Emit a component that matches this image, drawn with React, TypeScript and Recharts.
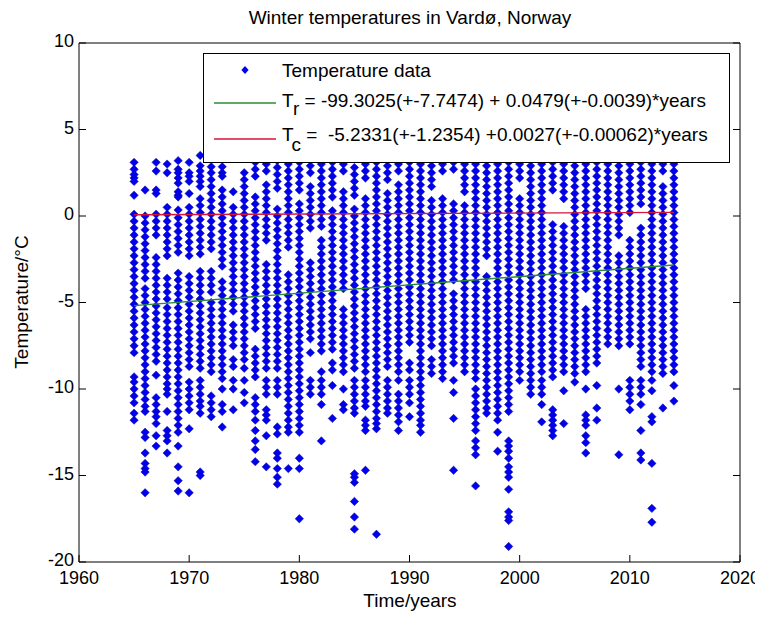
import React from 'react';
import { ComposedChart, Scatter, XAxis, YAxis } from 'recharts';

const winterYears = [1965,1966,1967,1968,1969,1970,1971,1972,1973,1974,1975,1976,1977,1978,1979,1980,1981,1982,1983,1984,1985,1986,1987,1988,1989,1990,1991,1992,1993,1994,1995,1996,1997,1998,1999,2000,2001,2002,2003,2004,2005,2006,2007,2008,2009,2010,2011,2012,2013,2014];

const winterTemps: number[][] = [
  [3.1,2.7,2.4,2.2,2.0,1.2,0.1,-0.3,-0.7,-1.1,-1.5,-1.9,-2.3,-2.7,-3.1,-3.5,-3.9,-4.3,-4.7,-5.1,-5.5,-5.9,-6.3,-6.7,-7.1,-7.5,-7.9,-9.3,-9.6,-10.0,-10.4,-10.8,-11.4,-11.8],
  [1.5,0.0,-0.4,-0.8,-1.2,-1.6,-2.0,-2.4,-2.8,-3.2,-3.6,-4.2,-4.6,-5.0,-5.4,-5.8,-6.2,-6.6,-7.0,-7.4,-7.8,-8.2,-8.6,-9.0,-9.4,-9.8,-10.2,-10.6,-11.0,-11.3,-12.5,-12.8,-13.7,-14.3,-14.6,-14.8,-16.0],
  [3.1,2.6,1.5,1.3,0.1,-0.3,-0.7,-1.1,-2.4,-2.8,-3.2,-3.6,-4.0,-4.4,-4.8,-5.2,-5.6,-6.0,-6.4,-6.8,-7.2,-7.6,-8.0,-8.4,-9.2,-10.5,-10.9,-11.3,-11.6,-12.0,-12.7,-13.3],
  [3.0,2.5,0.5,0.1,-0.3,-0.7,-1.1,-1.5,-1.9,-2.3,-3.6,-4.0,-4.4,-4.8,-5.3,-5.7,-6.1,-6.5,-6.9,-7.3,-7.7,-8.1,-8.5,-8.9,-9.3,-9.7,-10.0,-10.3,-11.3,-12.4,-12.7,-13.0,-13.7],
  [3.2,2.7,2.5,2.2,1.9,1.4,1.2,1.1,0.35,-0.1,-0.5,-0.9,-1.3,-1.7,-2.1,-3.3,-3.7,-4.1,-4.5,-4.9,-5.3,-5.7,-6.1,-6.5,-6.9,-7.3,-7.7,-8.1,-8.5,-8.9,-9.3,-9.7,-10.1,-10.5,-10.9,-11.3,-11.7,-12.1,-12.5,-13.3,-14.5,-15.3,-15.9],
  [3.1,2.5,2.3,2.0,1.3,0.5,0.1,-0.3,-0.7,-1.1,-1.5,-1.9,-2.3,-3.5,-3.9,-4.3,-4.7,-5.1,-5.5,-5.9,-6.3,-6.7,-7.1,-7.5,-7.9,-8.3,-8.7,-9.6,-10.0,-10.4,-10.8,-11.2,-12.3,-16.0],
  [3.5,2.9,2.6,2.3,2.0,1.7,1.0,0.6,0.2,-0.2,-0.6,-1.0,-1.4,-1.8,-2.2,-3.2,-3.6,-4.0,-4.4,-4.8,-5.2,-5.6,-6.0,-6.4,-6.8,-7.2,-7.6,-8.0,-8.4,-8.8,-9.5,-9.9,-10.3,-10.7,-11.0,-11.4,-14.8,-15.0],
  [2.85,2.5,2.1,1.7,1.3,0.9,0.5,0.1,-0.3,-0.7,-1.1,-1.5,-1.9,-3.2,-3.6,-4.0,-4.4,-5.0,-5.4,-5.8,-6.2,-6.6,-7.0,-7.4,-7.8,-8.2,-8.6,-9.0,-10.4,-10.8,-11.2,-11.6],
  [2.85,2.5,2.3,1.5,1.1,0.7,0.3,-0.1,-0.5,-0.9,-1.3,-1.7,-2.1,-2.5,-2.9,-3.8,-4.2,-4.6,-5.0,-5.4,-5.8,-6.2,-6.6,-7.0,-7.4,-7.8,-8.2,-8.6,-9.0,-9.4,-10.0,-10.9,-11.3,-12.2],
  [1.4,0.5,0.1,-0.3,-0.7,-1.1,-1.5,-1.9,-2.3,-2.7,-3.1,-3.5,-3.9,-4.3,-4.7,-5.1,-5.5,-6.3,-6.7,-7.1,-7.5,-8.3,-8.7,-9.5,-10.0,-11.2],
  [2.5,2.1,1.7,1.3,0.9,0.5,0.1,-0.3,-0.7,-1.1,-1.5,-1.9,-2.3,-2.7,-3.1,-3.5,-3.9,-4.3,-4.7,-5.1,-5.5,-5.9,-6.3,-6.7,-7.1,-7.5,-7.9,-8.3,-8.8,-9.5,-10.2,-10.8],
  [3.1,2.7,2.3,1.1,0.7,0.3,-0.1,-0.5,-0.9,-1.3,-1.7,-2.1,-2.5,-2.9,-3.3,-3.7,-4.1,-4.5,-4.9,-5.3,-5.7,-6.1,-6.5,-7.7,-8.1,-8.5,-8.9,-9.3,-10.5,-10.9,-11.3,-11.8,-12.4,-13.0,-13.5,-14.2],
  [3.0,2.6,1.8,1.4,1.0,0.6,0.2,-0.2,-0.6,-1.0,-1.4,-2.8,-3.2,-3.6,-4.0,-4.4,-4.8,-5.2,-5.6,-6.0,-6.4,-6.8,-7.2,-7.6,-8.0,-8.4,-8.8,-9.5,-9.9,-10.3,-11.2,-11.5,-11.8,-12.7,-14.5],
  [3.2,2.8,2.4,2.0,1.6,0.4,0.0,-0.4,-0.8,-1.2,-1.6,-2.0,-2.4,-2.8,-3.2,-3.6,-4.0,-4.4,-4.8,-5.2,-5.6,-6.0,-6.4,-6.8,-7.2,-7.6,-8.0,-8.4,-8.8,-9.5,-9.9,-10.3,-12.2,-12.6,-13.7,-14.0,-14.6,-15.1,-15.5],
  [3.0,2.6,2.2,1.8,1.4,1.0,0.6,0.2,-0.2,-0.6,-1.0,-1.4,-1.8,-3.4,-3.8,-4.2,-4.6,-5.0,-5.4,-5.8,-6.2,-6.6,-7.0,-7.4,-7.8,-8.2,-8.6,-9.0,-9.4,-9.8,-10.2,-10.6,-11.0,-11.4,-11.8,-12.2,-12.5,-14.6],
  [3.1,2.7,2.3,1.9,1.5,0.7,0.3,-0.1,-0.5,-0.9,-1.3,-1.7,-2.1,-2.5,-2.9,-3.3,-3.7,-4.1,-4.5,-4.9,-5.3,-5.7,-6.1,-6.5,-6.9,-7.3,-7.7,-8.1,-8.5,-8.9,-9.3,-9.7,-10.1,-10.5,-10.9,-11.3,-11.7,-12.1,-12.5,-14.0,-14.6,-17.5],
  [2.9,2.5,1.7,1.3,0.9,0.5,0.1,-0.3,-0.7,-2.7,-3.1,-3.5,-3.9,-4.3,-4.7,-5.1,-5.5,-5.9,-6.3,-6.7,-7.1,-7.9,-9.5,-9.9,-10.3],
  [3.0,2.6,2.2,1.8,1.4,1.0,0.6,0.2,-0.2,-0.6,-1.4,-1.8,-2.2,-2.6,-3.0,-3.4,-3.8,-4.2,-4.6,-5.0,-5.4,-5.8,-6.2,-6.6,-7.0,-7.4,-7.8,-9.0,-9.5,-9.9,-10.3,-10.9,-13.0],
  [3.1,2.7,2.3,1.9,1.5,1.1,0.3,-0.1,-0.5,-0.9,-1.3,-1.7,-2.1,-2.5,-2.9,-3.3,-3.7,-4.1,-4.5,-4.9,-5.3,-5.7,-6.1,-6.5,-6.9,-7.3,-7.7,-8.5,-8.9,-9.8,-11.7],
  [3.0,2.6,1.4,1.0,0.6,0.2,-0.2,-0.6,-1.0,-1.4,-1.8,-2.2,-2.6,-3.0,-3.4,-3.8,-4.2,-5.4,-5.8,-6.2,-6.6,-7.0,-7.4,-7.8,-8.2,-8.6,-9.0,-10.0,-10.9,-11.2],
  [2.8,2.4,2.0,1.6,1.2,0.4,0.0,-0.4,-0.8,-1.2,-1.6,-2.0,-2.4,-2.8,-3.2,-3.6,-4.0,-4.4,-4.8,-5.2,-5.6,-6.0,-6.4,-6.8,-7.2,-7.6,-8.0,-8.4,-8.8,-9.5,-9.9,-10.3,-10.7,-11.1,-11.4,-14.9,-15.1,-15.4,-16.5,-17.4,-18.1],
  [3.0,2.6,2.2,1.0,0.6,0.2,-0.2,-0.6,-1.0,-1.4,-1.8,-2.2,-2.6,-3.0,-3.4,-3.8,-4.2,-4.6,-5.0,-5.4,-5.8,-6.2,-6.6,-7.0,-7.4,-7.8,-8.2,-8.6,-9.0,-9.5,-9.9,-10.3,-10.7,-11.0,-11.8,-12.1,-12.4,-14.7],
  [3.1,2.7,2.3,1.9,1.5,1.1,0.7,0.3,-0.1,-0.5,-0.9,-1.3,-1.7,-2.1,-2.5,-2.9,-3.3,-3.7,-4.1,-4.5,-4.9,-5.3,-5.7,-6.1,-6.5,-6.9,-7.3,-7.7,-8.1,-8.5,-8.9,-9.3,-9.7,-10.1,-10.5,-10.9,-11.3,-11.7,-12.0,-12.3,-18.4],
  [2.9,2.5,2.1,1.3,0.9,0.5,0.1,-0.3,-0.7,-1.1,-1.5,-1.9,-2.3,-2.7,-3.1,-3.5,-3.9,-4.3,-4.7,-5.1,-5.5,-5.9,-6.3,-6.7,-7.1,-7.5,-7.9,-8.3,-8.7,-9.5,-9.9,-10.3,-10.7,-11.1,-11.4],
  [3.0,2.6,1.8,1.4,1.0,0.6,0.2,-0.2,-0.6,-1.0,-1.4,-1.8,-2.2,-2.6,-3.0,-3.4,-3.8,-4.2,-4.6,-5.0,-5.4,-5.8,-6.2,-6.6,-7.0,-7.4,-7.8,-8.2,-8.6,-9.0,-9.5,-10.3,-10.7,-11.1,-11.5,-11.9,-12.4],
  [3.1,2.7,2.3,1.9,1.5,1.1,0.7,0.3,-0.1,-0.5,-0.9,-1.3,-1.7,-2.1,-2.5,-2.9,-3.3,-3.7,-4.1,-4.5,-4.9,-5.3,-5.7,-6.1,-6.5,-6.9,-7.3,-8.5,-8.9,-9.5,-9.9,-10.3,-10.8,-11.6],
  [3.0,2.6,2.2,1.8,1.4,1.0,0.6,0.2,-0.2,-0.6,-1.0,-1.4,-1.8,-2.2,-2.6,-3.0,-3.4,-3.8,-4.2,-4.6,-5.0,-5.4,-5.8,-6.2,-6.6,-7.0,-7.4,-7.8,-8.2,-8.6,-9.0,-9.4,-9.8,-10.2,-10.6,-11.0,-11.4,-11.8,-12.1,-12.5],
  [2.9,2.5,2.1,1.7,0.9,0.5,0.1,-0.3,-0.7,-1.1,-1.5,-1.9,-2.3,-2.7,-3.1,-3.5,-3.9,-4.3,-4.7,-5.1,-5.5,-5.9,-6.3,-6.7,-7.1,-7.5,-8.3,-8.7,-9.1],
  [3.0,2.6,1.0,0.6,0.2,-0.2,-0.6,-1.0,-1.4,-1.8,-2.2,-2.6,-3.0,-3.4,-3.8,-4.2,-4.6,-5.0,-5.4,-5.8,-6.2,-6.6,-7.0,-7.4,-7.8,-8.2,-8.6,-9.0,-9.4],
  [3.1,2.7,0.7,0.3,-0.1,-0.5,-0.9,-1.3,-1.7,-2.1,-2.5,-2.9,-3.3,-3.7,-4.5,-4.9,-5.3,-5.7,-6.1,-6.5,-6.9,-7.3,-7.7,-8.1,-8.5,-9.5,-10.2,-11.7,-14.7],
  [3.0,2.6,2.2,1.8,1.4,0.6,0.2,-0.2,-0.6,-1.0,-1.4,-1.8,-2.2,-2.6,-3.0,-3.4,-3.8,-4.2,-4.6,-5.0,-5.4,-5.8,-6.2,-6.6,-7.0,-7.4,-7.8,-8.2,-8.6,-9.0],
  [3.0,2.6,2.2,1.8,1.4,1.0,0.6,0.2,-0.2,-0.6,-1.0,-1.4,-1.8,-2.2,-2.6,-3.0,-3.4,-3.8,-4.2,-4.6,-5.0,-5.4,-5.8,-6.2,-6.6,-7.0,-7.4,-7.8,-8.2,-8.6,-9.0,-9.4,-10.0,-10.4,-10.8,-11.2,-11.6,-12.0,-12.4,-13.0,-13.4,-13.8,-15.6],
  [2.9,2.5,2.1,1.7,1.3,0.9,0.5,0.1,-0.3,-0.7,-1.1,-1.5,-1.9,-2.3,-3.5,-3.9,-4.3,-4.7,-5.1,-5.5,-5.9,-6.3,-6.7,-7.1,-7.5,-7.9,-8.3,-8.7,-9.1,-9.5,-9.9,-10.3,-10.7,-11.1,-11.4],
  [3.0,2.6,2.2,1.8,1.4,1.0,0.6,0.2,-0.2,-0.6,-1.0,-1.4,-1.8,-2.2,-2.6,-3.0,-3.4,-3.8,-4.2,-4.6,-5.0,-5.4,-5.8,-6.2,-6.6,-7.0,-7.4,-7.8,-8.2,-8.6,-9.0,-9.4,-9.8,-10.2,-10.6,-11.0,-11.4,-11.8,-12.5,-13.6],
  [3.1,2.7,2.3,1.9,1.5,1.1,0.7,0.3,-0.1,-0.5,-0.9,-1.3,-1.7,-2.1,-2.5,-2.9,-3.3,-3.7,-4.1,-4.5,-4.9,-5.3,-5.7,-6.1,-6.5,-6.9,-7.3,-7.7,-8.1,-8.5,-8.9,-9.3,-9.7,-10.1,-10.5,-10.9,-11.3,-13.0,-13.3,-13.6,-14.0,-14.5,-14.8,-15.1,-15.8,-17.1,-17.4,-17.6,-19.1],
  [3.0,2.6,2.2,1.0,0.6,0.2,-0.2,-0.6,-1.0,-1.4,-1.8,-2.2,-2.6,-3.0,-3.4,-3.8,-4.2,-4.6,-5.0,-5.4,-5.8,-6.2,-6.6,-7.0,-7.4,-7.8,-8.2,-8.6,-9.0,-9.5],
  [2.9,2.5,2.1,1.7,1.3,0.9,0.5,0.1,-0.3,-0.7,-1.1,-1.5,-1.9,-2.3,-2.7,-3.1,-3.5,-3.9,-4.3,-4.7,-5.1,-5.5,-5.9,-6.3,-6.7,-7.1,-7.5,-7.9,-8.3,-8.7,-9.1,-9.5,-9.9,-10.3],
  [3.0,2.6,2.2,1.8,1.4,1.0,0.6,0.2,-0.2,-0.6,-1.0,-1.4,-1.8,-2.2,-2.6,-3.0,-3.4,-3.8,-4.2,-4.6,-5.0,-5.4,-5.8,-6.2,-6.6,-7.0,-7.4,-7.8,-8.2,-8.6,-9.0,-9.5,-9.9,-10.3,-10.9,-11.9],
  [3.1,2.7,2.3,1.9,1.5,-0.5,-0.9,-1.3,-1.7,-2.1,-2.5,-2.9,-3.3,-3.7,-4.1,-4.5,-4.9,-5.3,-5.7,-6.1,-6.5,-6.9,-7.3,-7.7,-8.1,-8.5,-8.9,-9.3,-11.2,-11.5,-11.8,-12.1,-12.4,-12.7],
  [3.0,2.6,2.2,1.8,1.4,1.0,-0.6,-1.0,-1.4,-1.8,-2.2,-2.6,-3.0,-3.4,-3.8,-4.2,-4.6,-5.0,-5.4,-5.8,-6.2,-6.6,-7.0,-7.4,-7.8,-8.2,-8.6,-9.0,-10.1,-12.0],
  [2.9,2.5,2.1,1.7,1.3,0.9,0.5,0.1,-0.3,-0.7,-1.1,-1.5,-1.9,-2.3,-2.7,-3.1,-3.5,-3.9,-4.3,-4.7,-5.1,-5.5,-5.9,-6.3,-6.7,-7.1,-7.5,-7.9,-8.3,-8.7,-9.1,-9.6],
  [3.0,2.6,2.2,1.8,1.4,1.0,0.6,0.2,-0.2,-0.6,-1.0,-1.4,-1.8,-2.2,-2.6,-3.0,-3.4,-3.8,-4.2,-5.4,-5.8,-6.2,-6.6,-7.0,-7.4,-7.8,-8.2,-8.6,-9.0,-10.0,-11.5,-11.8,-12.1,-12.7,-13.1,-13.7],
  [3.1,2.7,2.3,1.9,1.5,1.1,0.7,0.3,-0.1,-0.5,-0.9,-1.3,-1.7,-2.1,-2.5,-2.9,-3.3,-3.7,-4.1,-4.5,-4.9,-5.3,-5.7,-6.1,-6.5,-6.9,-7.3,-7.7,-8.1,-8.5,-9.8,-11.1,-11.8],
  [3.0,2.6,2.2,1.8,1.4,1.0,0.6,0.2,-0.2,-0.6,-1.0,-1.4,-1.8,-2.2,-2.6,-3.0,-3.4,-3.8,-4.2,-4.6,-5.0,-5.4,-5.8,-6.2,-6.6,-7.0,-7.4],
  [2.9,2.5,2.1,1.7,1.3,0.9,0.5,0.1,-0.3,-0.7,-1.1,-2.3,-2.7,-3.1,-3.5,-3.9,-4.3,-4.7,-5.1,-5.5,-5.9,-6.3,-6.7,-7.1,-7.5,-10.0,-13.8],
  [3.0,2.6,2.2,1.8,1.4,1.0,0.6,0.2,-1.4,-1.8,-2.2,-2.6,-3.0,-3.4,-3.8,-4.2,-4.6,-5.0,-5.4,-5.8,-6.2,-6.6,-7.0,-7.4,-9.5,-9.9,-10.3,-10.7,-11.2],
  [3.1,2.7,2.3,1.9,1.5,1.1,0.7,-0.7,-1.1,-1.5,-1.9,-2.3,-2.7,-3.1,-3.5,-3.9,-4.3,-4.7,-5.1,-5.5,-5.9,-6.3,-6.7,-7.1,-7.5,-7.9,-8.3,-8.7,-9.5,-9.9,-10.3,-10.9,-12.4,-13.7,-14.1],
  [3.0,2.6,2.2,1.8,1.4,1.0,0.6,0.2,-0.2,-0.6,-1.0,-1.4,-1.8,-2.2,-2.6,-3.0,-3.4,-3.8,-4.2,-4.6,-5.0,-5.4,-5.8,-6.2,-6.6,-7.0,-7.4,-7.8,-8.2,-8.6,-9.0,-9.5,-10.1,-11.6,-11.9,-14.3,-16.9,-17.7],
  [3.0,2.6,1.7,1.3,0.9,0.5,0.1,-0.3,-0.7,-1.1,-1.5,-1.9,-2.3,-2.7,-3.1,-3.5,-3.9,-4.3,-4.7,-5.1,-5.5,-5.9,-6.3,-6.7,-7.1,-7.5,-7.9,-8.3,-8.7,-9.1,-11.1],
  [3.0,2.6,2.2,1.8,1.4,1.0,0.6,0.2,-0.2,-0.6,-1.0,-1.4,-1.8,-2.2,-2.6,-3.0,-3.4,-3.8,-4.2,-4.6,-5.0,-5.4,-5.8,-6.2,-6.6,-7.0,-7.4,-7.8,-8.2,-8.6,-9.0,-9.8,-10.7],
];

const fitYears = [1965, 2014];
const trendFit = [-5.18, -2.83];
const constFit = [0.07, 0.21];

const xTicks = [1960, 1970, 1980, 1990, 2000, 2010, 2020];
const yTicks = [-20, -15, -10, -5, 0, 5, 10];

const FONT = '"Liberation Sans", Arial, Helvetica, sans-serif';
const FS = 19;
const TFS = 18;

const points = winterYears.flatMap((yr, i) => winterTemps[i].map((t) => ({ x: yr, y: t })));
const trendLine = fitYears.map((x, i) => ({ x, y: trendFit[i] }));
const constLine = fitYears.map((x, i) => ({ x, y: constFit[i] }));

const Diamond = (props: any) => {
  const { cx, cy } = props;
  if (cx == null || cy == null) return <g />;
  return (
    <polygon
      points={`${cx},${cy - 4.2} ${cx + 4.2},${cy} ${cx},${cy + 4.2} ${cx - 4.2},${cy}`}
      fill="#0000ee"
      stroke="#0a0a9a"
      strokeWidth={0.5}
    />
  );
};

const NoShape = () => <g />;

const BottomTick = (props: any) => {
  const { x, y, payload } = props;
  return (
    <g>
      <line x1={x} y1={y} x2={x} y2={y - 7} stroke="#000" strokeWidth={1} />
      <text x={x} y={y + 22} textAnchor="middle" fontSize={TFS} fontFamily={FONT} fill="#000">
        {payload.value}
      </text>
    </g>
  );
};

const TopTick = (props: any) => {
  const { x, y } = props;
  return <line x1={x} y1={y} x2={x} y2={y + 7} stroke="#000" strokeWidth={1} />;
};

const LeftTick = (props: any) => {
  const { x, y, payload } = props;
  return (
    <g>
      <line x1={x} y1={y} x2={x + 7} y2={y} stroke="#000" strokeWidth={1} />
      <text x={x - 5} y={y + 4} textAnchor="end" fontSize={TFS} fontFamily={FONT} fill="#000">
        {payload.value}
      </text>
    </g>
  );
};

const RightTick = (props: any) => {
  const { x, y } = props;
  return <line x1={x} y1={y} x2={x - 7} y2={y} stroke="#000" strokeWidth={1} />;
};

const W = 755;
const H = 604;

export default function App() {
  return (
    <div style={{ position: 'relative', width: W, height: H, fontFamily: FONT, overflow: 'hidden' }}>
      <ComposedChart width={W} height={H} margin={{ top: 0, right: 0, bottom: 0, left: 0 }}>
        <XAxis
          dataKey="x"
          type="number"
          domain={[1960, 2020]}
          ticks={xTicks}
          interval={0}
          height={50}
          tickSize={0}
          tickMargin={0}
          tick={<BottomTick />}
          tickLine={false}
          axisLine={{ stroke: '#000' }}
          allowDataOverflow
        />
        <XAxis
          xAxisId="top"
          orientation="top"
          type="number"
          domain={[1960, 2020]}
          ticks={xTicks}
          interval={0}
          height={35}
          tickSize={0}
          tickMargin={0}
          tick={<TopTick />}
          tickLine={false}
          axisLine={{ stroke: '#000' }}
          allowDataOverflow
        />
        <YAxis
          dataKey="y"
          type="number"
          domain={[-20, 10]}
          ticks={yTicks}
          interval={0}
          width={71}
          tickSize={0}
          tickMargin={0}
          tick={<LeftTick />}
          tickLine={false}
          axisLine={{ stroke: '#000' }}
          allowDataOverflow
        />
        <YAxis
          yAxisId="right"
          orientation="right"
          type="number"
          domain={[-20, 10]}
          ticks={yTicks}
          interval={0}
          width={23}
          tickSize={0}
          tickMargin={0}
          tick={<RightTick />}
          tickLine={false}
          axisLine={{ stroke: '#000' }}
          allowDataOverflow
        />
        <Scatter data={points} shape={<Diamond />} isAnimationActive={false} />
        <Scatter
          data={trendLine}
          line={{ stroke: '#2a8c3a', strokeWidth: 1.4 }}
          shape={<NoShape />}
          isAnimationActive={false}
        />
        <Scatter
          data={constLine}
          line={{ stroke: '#d4143a', strokeWidth: 1.4 }}
          shape={<NoShape />}
          isAnimationActive={false}
        />
      </ComposedChart>

      <div
        style={{
          position: 'absolute', left: 102, top: 0, width: 600, textAlign: 'center',
          fontSize: FS, lineHeight: '20px', color: '#000',
        }}
      >
        Winter temperatures in Vardø, Norway
      </div>

      <div
        style={{
          position: 'absolute', left: 302, top: 583, width: 200, textAlign: 'center',
          fontSize: FS, lineHeight: '20px', color: '#000',
        }}
      >
        Time/years
      </div>

      <div
        style={{
          position: 'absolute', left: 14 - 100, top: 294 - 10, width: 200, height: 20, textAlign: 'center',
          fontSize: FS, lineHeight: '20px', color: '#000', transform: 'rotate(-90deg)',
        }}
      >
        Temperature/°C
      </div>

      <div style={{ position: 'absolute', left: 195, top: 45, width: 527, height: 110 }}>
        <svg width={527} height={110} style={{ display: 'block' }}>
          <rect x={0.5} y={0.5} width={526} height={109} fill="#fff" stroke="#000" strokeWidth={1} />
          <polygon points="42,13 45.6,17 42,21 38.4,17" fill="#0000ee" />
          <text x={79} y={24} fontSize={FS} fontFamily={FONT} fill="#000">Temperature data</text>
          <line x1={11} y1={50} x2={73} y2={50} stroke="#2a8c3a" strokeWidth={1.4} />
          <text x={79} y={54} fontSize={FS} fontFamily={FONT} fill="#000" style={{ whiteSpace: 'pre' }}>
            T<tspan dy={8}>r</tspan><tspan dy={-8}>{' = -99.3025(+-7.7474) + 0.0479(+-0.0039)*years'}</tspan>
          </text>
          <line x1={11} y1={86} x2={73} y2={86} stroke="#d4143a" strokeWidth={1.4} />
          <text x={79} y={88} fontSize={FS} fontFamily={FONT} fill="#000" style={{ whiteSpace: 'pre' }}>
            T<tspan dy={10}>c</tspan><tspan dy={-10}>{' =  -5.2331(+-1.2354) +0.0027(+-0.00062)*years'}</tspan>
          </text>
        </svg>
      </div>
    </div>
  );
}
